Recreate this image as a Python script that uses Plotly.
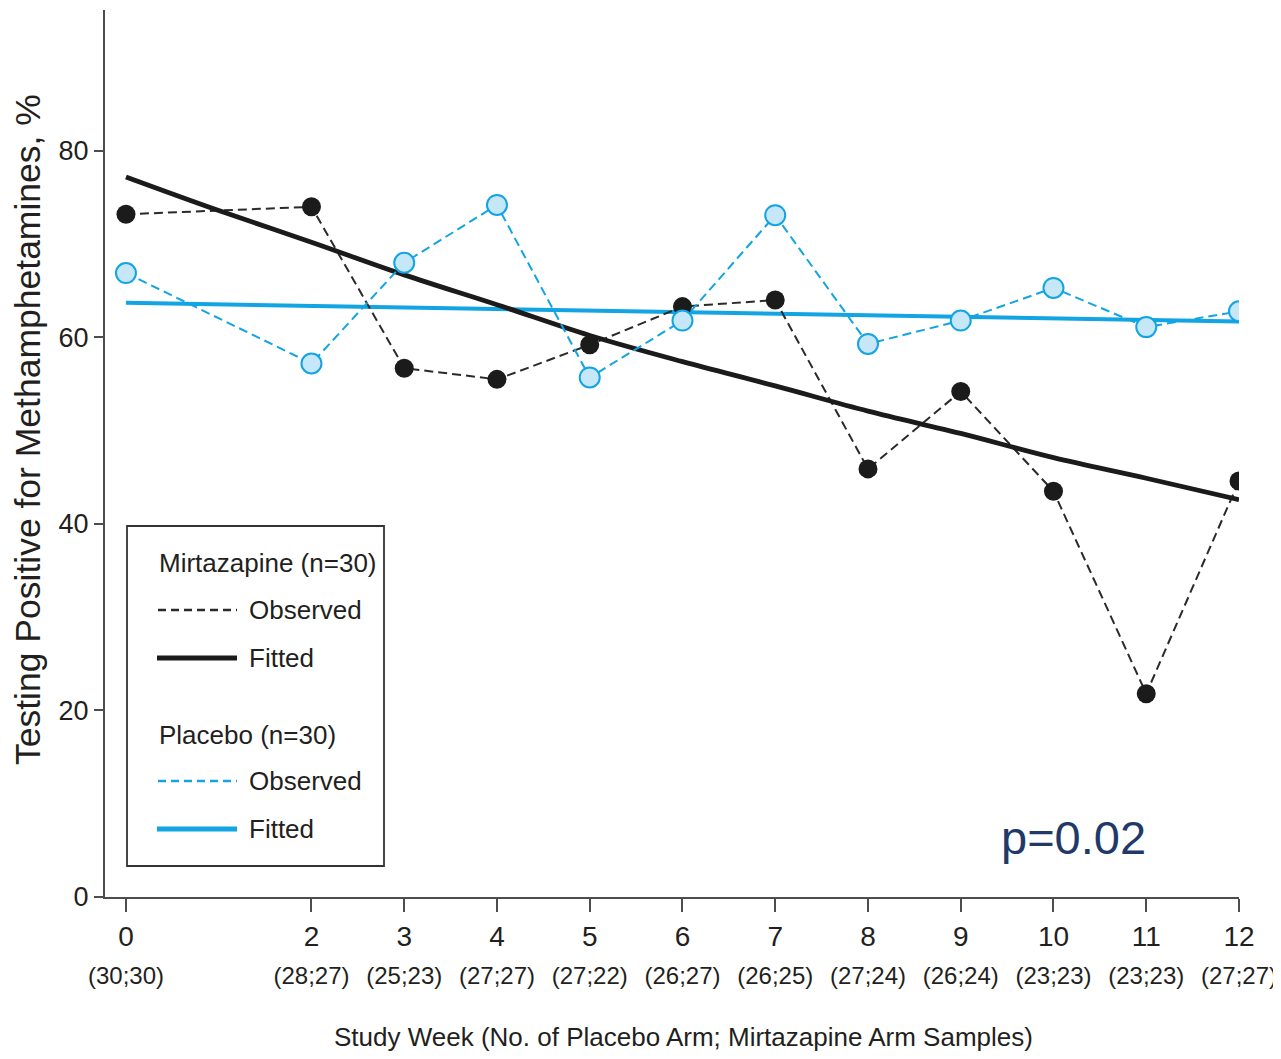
import plotly.graph_objects as go

# ---------------- data ----------------
weeks = [0, 2, 3, 4, 5, 6, 7, 8, 9, 10, 11, 12]
week_labels = ["0", "2", "3", "4", "5", "6", "7", "8", "9", "10", "11", "12"]
sample_counts = ["(30;30)", "(28;27)", "(25;23)", "(27;27)", "(27;22)", "(26;27)",
                 "(26;25)", "(27;24)", "(26;24)", "(23;23)", "(23;23)", "(27;27)"]
mirt_observed = [73.2, 74.0, 56.7, 55.5, 59.2, 63.3, 64.0, 45.9, 54.2, 43.5, 21.8, 44.6]
placebo_observed = [66.9, 57.2, 68.0, 74.2, 55.7, 61.8, 73.1, 59.3, 61.8, 65.3, 61.1, 62.8]
fit_weeks = [0, 1, 2, 3, 4, 5, 6, 7, 8, 9, 10, 11, 12]
mirt_fitted = [77.2, 73.6, 70.2, 66.7, 63.5, 60.2, 57.4, 54.8, 52.1, 49.7, 47.1, 44.9, 42.6]
placebo_fit_weeks = [0, 12]
placebo_fitted = [63.7, 61.7]
y_ticks = [0, 20, 40, 60, 80]

# ---------------- style ----------------
BLACK = "#1b1b1b"
BLUE = "#12a4e3"
BLUE_FILL = "#c6e7f8"
AXIS = "#4d4d4d"
TXT = "#231f20"
SANS = "Liberation Sans, Arial, sans-serif"

OFF = 8  # page body margin
W, H = 1281 - OFF, 1059 - 2 * OFF
L, R, T, B = 105, 1239, 10, 897  # plot area in screen pixels


def px(x):
    return (x - L) / (R - L)


def py(y):
    return (B - y) / (B - T)


fig = go.Figure()

fig.add_trace(go.Scatter(x=placebo_fit_weeks, y=placebo_fitted, mode="lines",
                         line=dict(color=BLUE, width=4), showlegend=False))
fig.add_trace(go.Scatter(x=weeks, y=mirt_observed, mode="lines+markers",
                         line=dict(color="#2a2a2a", width=2, dash="9px,5px"),
                         marker=dict(size=19, color=BLACK, line=dict(width=0)),
                         showlegend=False))
fig.add_trace(go.Scatter(x=fit_weeks, y=mirt_fitted, mode="lines",
                         line=dict(color=BLACK, width=4.8, shape="spline"), showlegend=False))
fig.add_trace(go.Scatter(x=weeks, y=placebo_observed, mode="lines+markers", xaxis="x2",
                         line=dict(color=BLUE, width=2, dash="9px,5px"),
                         marker=dict(size=20, color=BLUE_FILL, line=dict(width=2, color=BLUE)),
                         showlegend=False))

fig.update_layout(
    width=W, height=H,
    margin=dict(l=L - OFF, r=(OFF + W) - R, t=T - OFF, b=(OFF + H) - B, pad=0),
    paper_bgcolor="white", plot_bgcolor="white",
    showlegend=False,
    xaxis=dict(range=[-0.226, 12], tickmode="array", tickvals=weeks, ticktext=week_labels,
               tickangle=0, automargin=False, ticklabeloverflow="allow",
               showline=True, linecolor=AXIS, linewidth=2, ticks="outside", ticklen=13,
               tickwidth=1.5, tickcolor=AXIS, showgrid=False, zeroline=False,
               ticklabelstandoff=0,
               tickfont=dict(family=SANS, size=28, color=TXT)),
    xaxis2=dict(matches="x", overlaying="x", side="bottom", anchor="y",
                tickmode="array", tickvals=weeks, ticktext=sample_counts,
                tickangle=0, automargin=False, showline=False, ticks="",
                ticklabeloverflow="allow",
                showgrid=False, zeroline=False, ticklabelstandoff=62,
                tickfont=dict(family=SANS, size=24, color=TXT)),
    yaxis=dict(range=[0, 95.1], tickmode="array", tickvals=y_ticks, automargin=False,
               showline=True, linecolor=AXIS, linewidth=2, ticks="outside", ticklen=9,
               tickwidth=1.5, tickcolor=AXIS, showgrid=False, zeroline=False,
               tickfont=dict(family=SANS, size=27, color=TXT)),
)

annotations = [
    dict(text="Study Week (No. of Placebo Arm; Mirtazapine Arm Samples)", x=px(683), y=py(1037),
         xref="paper", yref="paper", xanchor="center", yanchor="middle", showarrow=False,
         font=dict(family=SANS, size=26, color=TXT)),
    dict(text="Testing Positive for Methamphetamines, %", x=px(28), y=py(430),
         xref="paper", yref="paper", xanchor="center", yanchor="middle", showarrow=False,
         textangle=-90, font=dict(family=SANS, size=35.5, color=TXT)),
    dict(text="p=0.02", x=px(1073), y=py(837), xref="paper", yref="paper",
         xanchor="center", yanchor="middle", showarrow=False,
         font=dict(family=SANS, size=47, color="#1f3a68")),
]

legend_texts = [
    ("Mirtazapine (n=30)", 157, 563),
    ("Observed", 247, 610),
    ("Fitted", 247, 658),
    ("Placebo (n=30)", 157, 735),
    ("Observed", 247, 781),
    ("Fitted", 247, 829),
]
for t, x, y in legend_texts:
    annotations.append(dict(text=t, x=px(x), y=py(y), xref="paper", yref="paper",
                            xanchor="left", yanchor="middle", showarrow=False,
                            font=dict(family=SANS, size=26, color=TXT)))

shapes = [
    dict(type="rect", xref="paper", yref="paper", x0=px(127), x1=px(384), y0=py(866), y1=py(526),
         line=dict(color="#333333", width=1.8), fillcolor="rgba(0,0,0,0)"),
    dict(type="line", xref="paper", yref="paper", x0=px(158), x1=px(237), y0=py(610), y1=py(610),
         line=dict(color="#2a2a2a", width=2.5, dash="8px,5px")),
    dict(type="line", xref="paper", yref="paper", x0=px(157), x1=px(237), y0=py(658), y1=py(658),
         line=dict(color=BLACK, width=5)),
    dict(type="line", xref="paper", yref="paper", x0=px(158), x1=px(237), y0=py(781), y1=py(781),
         line=dict(color=BLUE, width=2.5, dash="8px,5px")),
    dict(type="line", xref="paper", yref="paper", x0=px(157), x1=px(237), y0=py(829), y1=py(829),
         line=dict(color=BLUE, width=5)),
]

fig.update_layout(annotations=annotations, shapes=shapes)

fig.write_html("out.html")
